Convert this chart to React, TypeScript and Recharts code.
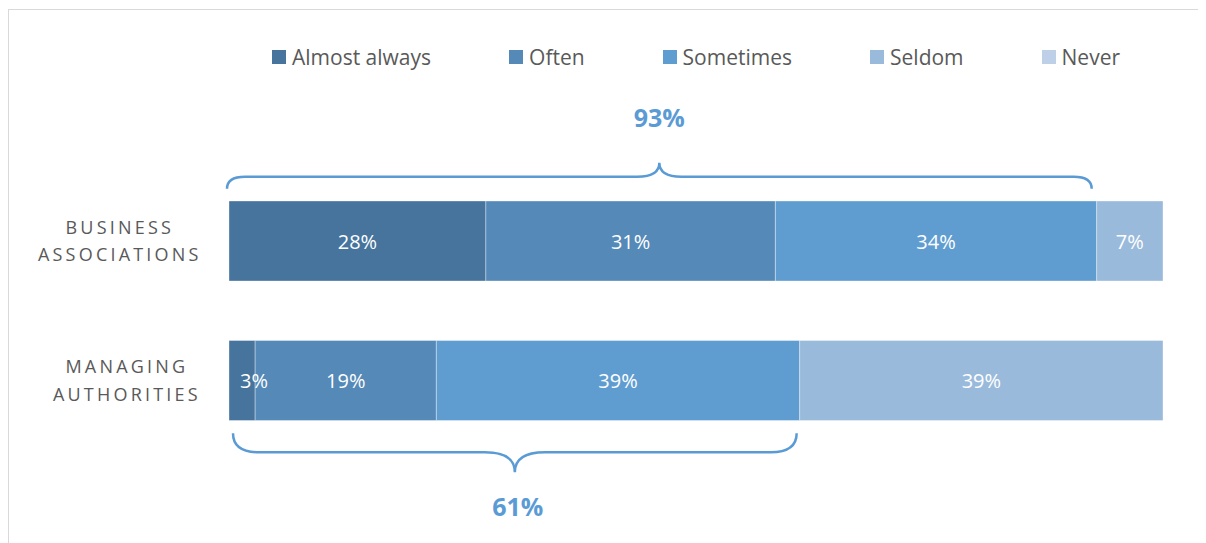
import { Bar, BarChart, LabelList, ReferenceArea, XAxis, YAxis } from "recharts";

const categories = ["Business Associations", "Managing Authorities"];
const almostAlways = [27.5, 2.8];
const often = [31.0, 19.4];
const sometimes = [34.4, 38.9];
const seldom = [7.1, 38.9];
const never = [0, 0];

const seriesNames = ["Almost always", "Often", "Sometimes", "Seldom", "Never"];
const seriesValues = [almostAlways, often, sometimes, seldom, never];
const seriesColors = ["#46749d", "#5589b8", "#5f9dd1", "#9abadc", "#bdd0e8"];

const data = categories.map((name, i) => {
    const row: Record<string, string | number> = { name };
    seriesNames.forEach((s, j) => (row[s] = seriesValues[j][i]));
    return row;
});

// share answering at least "sometimes"
const atLeastSometimes = categories.map((_, i) => almostAlways[i] + often[i] + sometimes[i]);

const BAR_SIZE = 80;
const BLUE = "#5b9bd5";
const GREY = "#595959";

const bracePath = (x0: number, x1: number, yEnd: number, yLine: number, yTip: number, r: number, r2: number) => {
    const xc = (x0 + x1) / 2;
    return `M${x0},${yEnd} Q${x0},${yLine} ${x0 + r},${yLine} L${xc - r2},${yLine} Q${xc},${yLine} ${xc},${yTip} ` +
        `Q${xc},${yLine} ${xc + r2},${yLine} L${x1 - r},${yLine} Q${x1},${yLine} ${x1},${yEnd}`;
};

const Brace = (props: any) => {
    const { x, y, width, height, row, value } = props;
    const band = height / categories.length;
    const label = `${Math.round(value)}%`;
    if (row === 0) {
        const barTop = y + band / 2 - BAR_SIZE / 2;
        const x0 = x - 2;
        const x1 = x + width - 5;
        return (
            <g>
                <path d={bracePath(x0, x1, barTop - 12, barTop - 24, barTop - 38, 18, 22)} fill="none" stroke={BLUE} strokeWidth={2.5} />
                <text x={(x0 + x1) / 2} y={barTop - 74} textAnchor="middle" fill={BLUE} fontSize={25} fontWeight={700}>{label}</text>
            </g>
        );
    }
    const barBottom = y + band * 1.5 + BAR_SIZE / 2;
    const x0 = x + 4;
    const x1 = x + width - 3;
    return (
        <g>
            <path d={bracePath(x0, x1, barBottom + 13, barBottom + 32, barBottom + 52, 26, 30)} fill="none" stroke={BLUE} strokeWidth={2.5} />
            <text x={(x0 + x1) / 2 + 3} y={barBottom + 96} textAnchor="middle" fill={BLUE} fontSize={25} fontWeight={700}>{label}</text>
        </g>
    );
};

const SegmentLabel = (props: any) => {
    const { x, y, width, height, value } = props;
    if (!(Number(value) > 0)) return null;
    // narrow segments: the label sits a little to the right, as in the original
    const cx = width < 32 ? x + width / 2 + 12 : x + width / 2;
    return (
        <text x={cx} y={y + height / 2} textAnchor="middle" dominantBaseline="central" fill="#ffffff" fontSize={20}>
            {`${Math.round(Number(value))}%`}
        </text>
    );
};

const CategoryTick = (props: any) => {
    const { x, y, payload } = props;
    const words = String(payload.value).toUpperCase().split(" ");
    const longest = Math.max(...words.map((w) => w.length));
    const cx = x - 16 - (longest * 14.2) / 2;
    return (
        <text x={cx} y={y} textAnchor="middle" fill={GREY} fontSize={18} letterSpacing={3.2}>
            {words.map((w, i) => (
                <tspan key={w} x={cx} y={y + (i === 0 ? -7 : 20.5)}>{w}</tspan>
            ))}
        </text>
    );
};

const App = () => {
    return (
        <div style={{ position: "relative", width: 1198, height: 535, fontFamily: "'Open Sans', sans-serif" }}>
            <style>{"html,body{overflow:hidden}"}</style>
            <div style={{ position: "absolute", left: 0, top: 1, width: 1300, height: 600, border: "1.5px solid #d9d9d9" }} />
            <div style={{ position: "absolute", left: 264, top: 39, height: 20, display: "flex", alignItems: "center", gap: 78, color: GREY, fontSize: 21 }}>
                {seriesNames.map((s, i) => (
                    <div key={s} style={{ display: "flex", alignItems: "center" }}>
                        <span style={{ width: 14, height: 14, background: seriesColors[i], marginRight: 6 }} />
                        <span style={{ lineHeight: "20px" }}>{s}</span>
                    </div>
                ))}
            </div>
            <div style={{ position: "absolute", left: 0, top: 0 }}>
                <BarChart layout="vertical" width={1198} height={535} data={data} barSize={BAR_SIZE}
                    margin={{ top: 163, right: 43, bottom: 93, left: 0 }}>
                    <XAxis type="number" domain={[0, 100]} hide />
                    <YAxis type="category" dataKey="name" width={221} axisLine={false} tickLine={false} tick={<CategoryTick />} />
                    {seriesNames.map((s, i) => (
                        <Bar key={s} dataKey={s} stackId="a" fill={seriesColors[i]} stroke="#ffffff" strokeOpacity={0.35} strokeWidth={1} isAnimationActive={false}>
                            <LabelList dataKey={s} content={<SegmentLabel />} />
                        </Bar>
                    ))}
                    {atLeastSometimes.map((v, i) => (
                        <ReferenceArea key={i} x1={0} x2={v} shape={(p: any) => <Brace {...p} row={i} value={v} />} />
                    ))}
                </BarChart>
            </div>
        </div>
    );
};

export default App;
